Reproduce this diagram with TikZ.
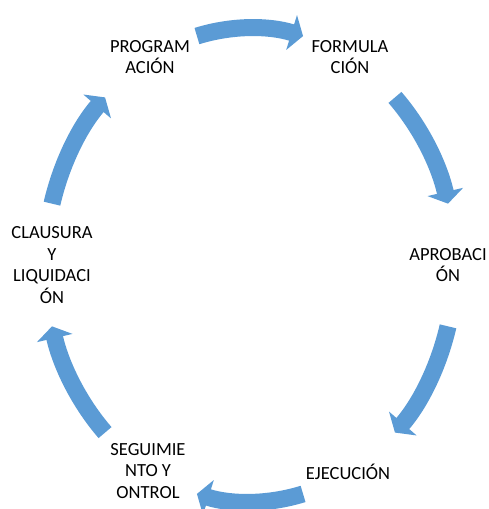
\documentclass[tikz,border=0pt]{standalone}
\usepackage{fontspec}
\setmainfont{Carlito}
\usetikzlibrary{arrows.meta}
\definecolor{arrowblue}{HTML}{5B9BD5}
\begin{document}
\begin{tikzpicture}[x=1pt,y=1pt,
  lbl/.style={align=center,inner sep=0pt,text=black,font=\fontsize{18.5}{21.5}\selectfont},
  cyc/.style={draw=arrowblue,line width=17pt,-{Triangle[length=12pt,width=36pt]}}]
\useasboundingbox (0,0) rectangle (488,509);
\coordinate (c) at (250,244);
\node[lbl] (prog) at (150,452) {PROGRAM\\ACIÓN};
\node[lbl] (form) at (350,452) {FORMULA\\CIÓN};
\node[lbl] (apro) at (448,244) {APROBACI\\ÓN};
\node[lbl] (ejec) at (348,37) {EJECUCIÓN};
\node[lbl] (segu) at (148,38) {SEGUIMIE\\NTO Y\\ONTROL};
\node[lbl] (clau) at (52,244) {CLAUSURA\\Y\\LIQUIDACI\\ÓN};
\foreach \a/\b in {105/75,45/15,-15/-45,-75/-105,-135/-165,165/135}
  \draw[cyc] (c) ++(\a:205 and 237) arc[start angle=\a,end angle=\b,x radius=205,y radius=237];
\end{tikzpicture}
\end{document}
